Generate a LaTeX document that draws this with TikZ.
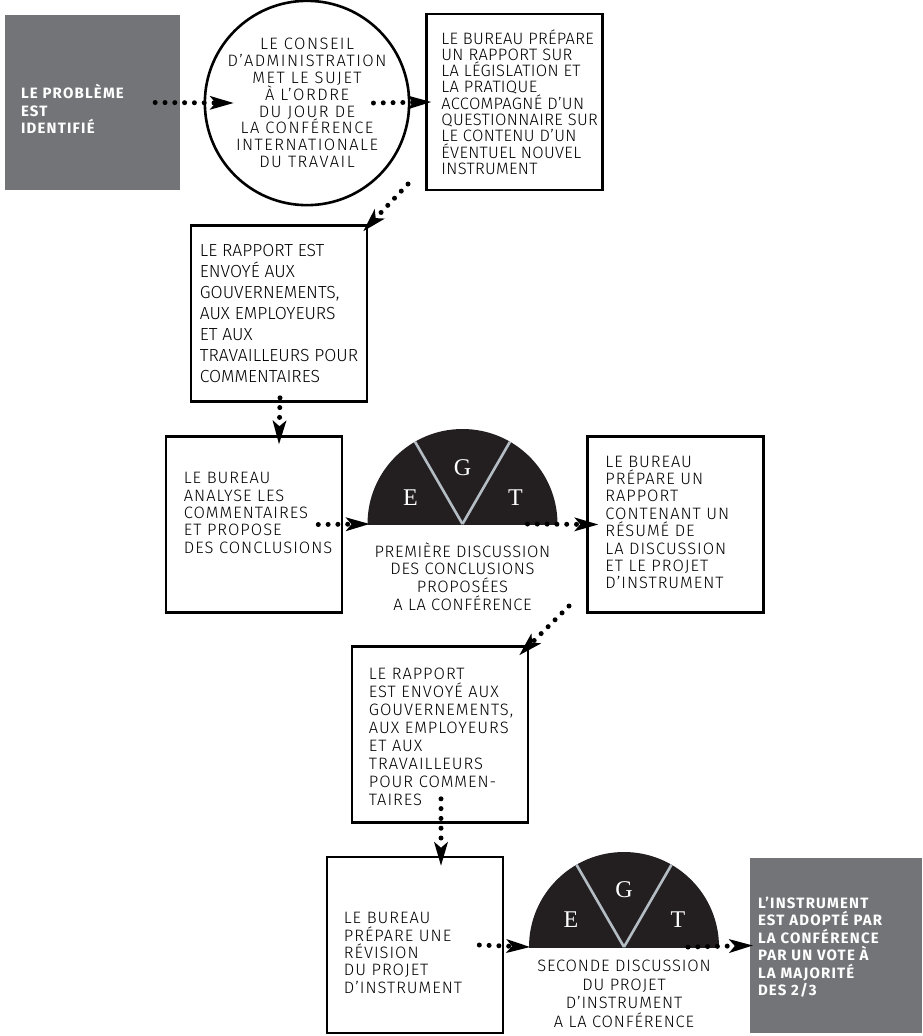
\documentclass[tikz,border=0pt]{standalone}
\usepackage{fontspec}
\usepackage{xcolor}
\usepackage{tikz}
\usetikzlibrary{positioning,arrows.meta}

\newfontfamily\lightsf{Fira Sans Light}[LetterSpace=6]
\newfontfamily\boldsf{Fira Sans}[LetterSpace=8]
\newfontfamily\egtfont{Liberation Serif}

\definecolor{stepgray}{RGB}{115,116,120}
\definecolor{egtblack}{RGB}{35,31,32}
\definecolor{egtline}{RGB}{180,188,196}

\begin{document}
\begin{tikzpicture}[
        x=1pt, y=-1pt,
        box/.style={draw, line width=2.6pt, minimum width=176pt, minimum height=176pt, inner sep=0pt},
        greybox/.style={fill=stepgray, minimum width=175pt, minimum height=175pt, inner sep=0pt},
        boxtext/.style={align=left, inner sep=0pt, font=\lightsf\fontsize{16.5}{17.4}\selectfont},
        greytext/.style={align=left, inner sep=0pt, text=white, font=\boldsf\bfseries\fontsize{15}{17.5}\selectfont},
        captiontext/.style={align=center, inner sep=0pt, font=\lightsf\addfontfeature{LetterSpace=4}\fontsize{16.5}{17.8}\selectfont},
        egtletter/.style={text=white, inner sep=0pt, font=\egtfont\fontsize{24}{24}\selectfont},
        divider/.style={draw=egtline, line width=2.6pt},
        flow/.style={line width=5pt, line cap=round, dash pattern=on 0pt off 9.8pt,
            -{Stealth[length=24pt, width=14pt, inset=6pt, line width=0pt]}}
    ]
        \useasboundingbox (0,0) rectangle (922,1036);

        % Top row
        \node[greybox] (probleme) at (92.5,102.5) {};
        \node[greytext, right=16pt of probleme.west, yshift=-6.5pt] (probleme-t) {LE PROBLÈME\\EST\\IDENTIFIÉ};
        \node[draw, circle, line width=2.6pt, minimum size=194pt, inner sep=0pt, align=center,
            font=\lightsf\addfontfeature{LetterSpace=9}\fontsize{16.5}{16.8}\selectfont] (conseil) at (307,103)
            {LE CONSEIL\\D’ADMINISTRATION\\MET LE SUJET\\À L’ORDRE\\DU JOUR DE\\LA CONFÉRENCE\\INTERNATIONALE\\DU TRAVAIL};
        \node[box] (rapport) at (514.5,102) {};
        \node[boxtext, font=\lightsf\addfontfeature{LetterSpace=2}\fontsize{16.5}{16.3}\selectfont, right=16pt of rapport.west] (rapport-t)
            {LE BUREAU PRÉPARE\\UN RAPPORT SUR\\LA LÉGISLATION ET\\LA PRATIQUE\\ACCOMPAGNÉ D’UN\\QUESTIONNAIRE SUR\\LE CONTENU D’UN\\ÉVENTUEL NOUVEL\\INSTRUMENT};

        % First consultation
        \node[box] (envoi) at (279,313.5) {};
        \node[boxtext, font=\lightsf\addfontfeature{LetterSpace=0}\fontsize{17.5}{21}\selectfont, right=10pt of envoi.west] (envoi-t)
            {LE RAPPORT EST\\ENVOYÉ AUX\\GOUVERNEMENTS,\\AUX EMPLOYEURS\\ET AUX\\TRAVAILLEURS POUR\\COMMENTAIRES};

        % First discussion row
        \node[box] (analyse) at (254,524.5) {};
        \node[boxtext, right=19pt of analyse.west, yshift=11.5pt] (analyse-t)
            {LE BUREAU\\ANALYSE LES\\COMMENTAIRES\\ET PROPOSE\\DES CONCLUSIONS};
        \coordinate (egt1) at (462.5,524);
        \begin{scope}
            \clip ([xshift=-100pt]egt1) rectangle ([xshift=100pt, yshift=100pt]egt1);
            \fill[egtblack] (egt1) circle[radius=95pt];
        \end{scope}
        \draw[divider] (egt1) -- ++(60:95pt);
        \draw[divider] (egt1) -- ++(120:95pt);
        \node[egtletter] (e1) at ([xshift=-52pt, yshift=26pt]egt1) {E};
        \node[egtletter] (g1) at ([yshift=56pt]egt1) {G};
        \node[egtletter] (t1) at ([xshift=53pt, yshift=26pt]egt1) {T};
        \node[captiontext] (egt1-t) at ([yshift=-52.5pt]egt1)
            {PREMIÈRE DISCUSSION\\DES CONCLUSIONS\\PROPOSÉES\\A LA CONFÉRENCE};
        \node[box] (resume) at (675.5,524.5) {};
        \node[boxtext, right=19pt of resume.west, yshift=2pt] (resume-t)
            {LE BUREAU\\PRÉPARE UN\\RAPPORT\\CONTENANT UN\\RÉSUMÉ DE\\LA DISCUSSION\\ET LE PROJET\\D’INSTRUMENT};

        % Second consultation
        \node[box] (renvoi) at (440,734.5) {};
        \node[boxtext, font=\lightsf\fontsize{16.5}{18}\selectfont, right=18pt of renvoi.west, yshift=-2.5pt] (renvoi-t)
            {LE RAPPORT\\EST ENVOYÉ AUX\\GOUVERNEMENTS,\\AUX EMPLOYEURS\\ET AUX\\TRAVAILLEURS\\POUR COMMEN-\\TAIRES};

        % Second discussion row
        \node[box] (revision) at (415,945) {};
        \node[boxtext, right=18pt of revision.west, yshift=-8pt] (revision-t)
            {LE BUREAU\\PRÉPARE UNE\\RÉVISION\\DU PROJET\\D’INSTRUMENT};
        \coordinate (egt2) at (624,947);
        \begin{scope}
            \clip ([xshift=-100pt]egt2) rectangle ([xshift=100pt, yshift=100pt]egt2);
            \fill[egtblack] (egt2) circle[radius=95pt];
        \end{scope}
        \draw[divider] (egt2) -- ++(60:95pt);
        \draw[divider] (egt2) -- ++(120:95pt);
        \node[egtletter] (e2) at ([xshift=-53pt, yshift=27pt]egt2) {E};
        \node[egtletter] (g2) at ([yshift=57pt]egt2) {G};
        \node[egtletter] (t2) at ([xshift=54pt, yshift=27pt]egt2) {T};
        \node[captiontext, font=\lightsf\addfontfeature{LetterSpace=5}\fontsize{16.5}{18.5}\selectfont] (egt2-t) at ([yshift=-47pt]egt2)
            {SECONDE DISCUSSION\\DU PROJET\\D’INSTRUMENT\\A LA CONFÉRENCE};
        \node[greybox, minimum width=172pt] (adoption) at (836,945.5) {};
        \node[greytext, right=8pt of adoption.west, yshift=-1.5pt] (adoption-t)
            {L’INSTRUMENT\\EST ADOPTÉ PAR\\LA CONFÉRENCE\\PAR UN VOTE À\\LA MAJORITÉ\\DES 2/3};

        % Dotted arrows
        \draw[flow] ([xshift=-25pt]probleme.east) -- ([xshift=30pt]conseil.west);
        \draw[flow] ([xshift=-37pt]conseil.east) -- ([xshift=6pt]rapport.west);
        \draw[flow] ([xshift=101pt, yshift=-81pt]conseil.center) -- ([xshift=-5pt, yshift=-7pt]envoi.north east);
        \draw[flow] ([xshift=1pt, yshift=5pt]envoi.south) -- ([yshift=-9pt]envoi.south |- analyse.north);
        \draw[flow] ([xshift=-25pt]analyse.east) -- ([xshift=-93pt]egt1);
        \draw[flow] ([xshift=65pt]egt1) -- ([xshift=12pt]resume.west);
        \draw[flow] ([xshift=106.5pt, yshift=-82pt]egt1) -- ([xshift=-10pt, yshift=-10pt]renvoi.north east);
        \draw[flow] ([xshift=1pt, yshift=25pt]renvoi.south) -- ([xshift=1pt, yshift=-10pt]renvoi.south |- revision.north);
        \draw[flow] ([xshift=-25pt]revision.east) -- ([xshift=-94pt]egt2);
        \draw[flow] ([xshift=64pt]egt2) -- ([xshift=3pt]adoption.west);
\end{tikzpicture}
\end{document}
